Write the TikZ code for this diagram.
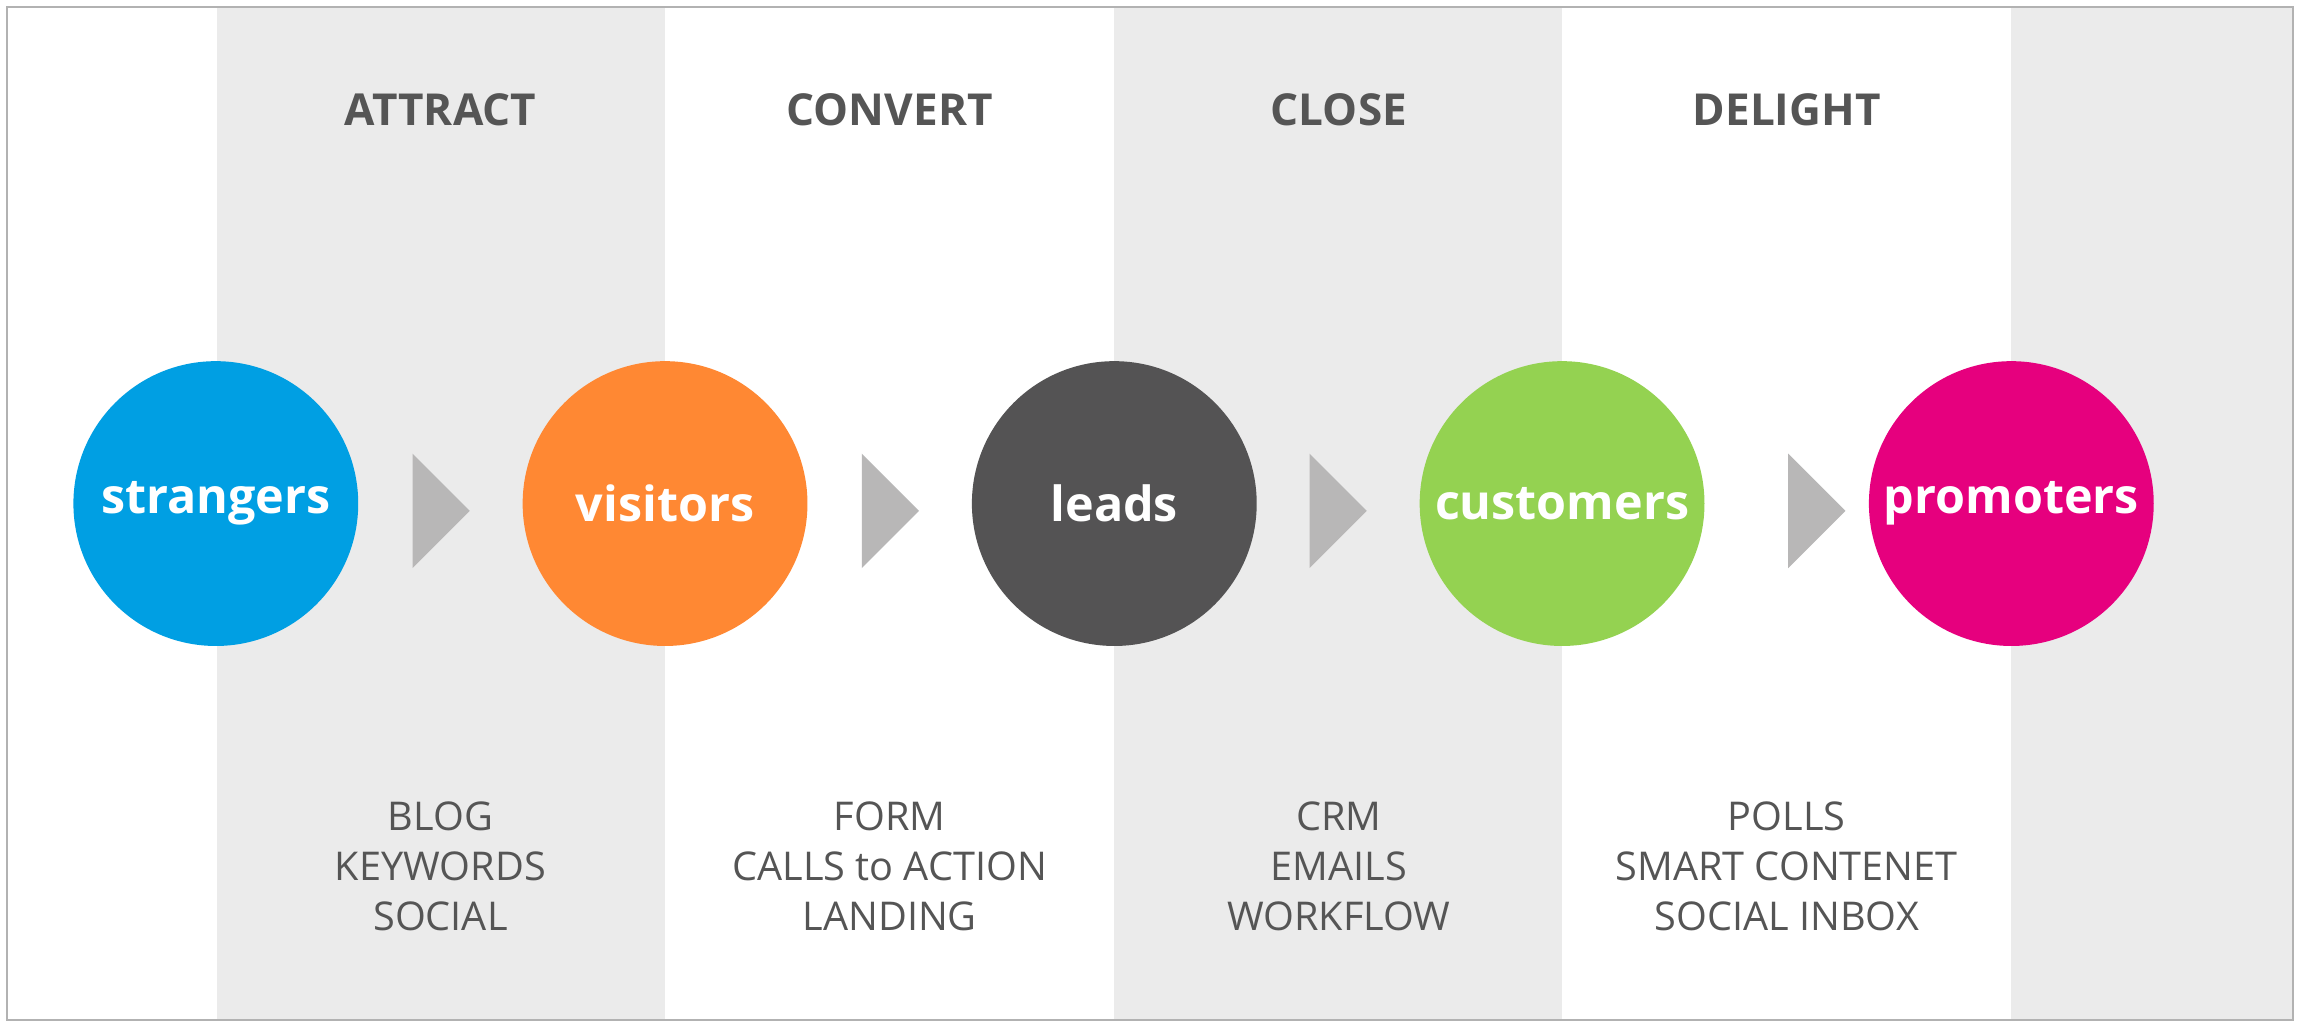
\documentclass[tikz,border=0pt]{standalone}
\usepackage{fontspec}
\setmainfont{Open Sans}
\definecolor{band}{HTML}{EBEBEB}
\definecolor{tri}{HTML}{B8B7B7}
\definecolor{txt}{HTML}{555555}
\definecolor{cblue}{HTML}{009FE3}
\definecolor{corange}{HTML}{FF8833}
\definecolor{cdark}{HTML}{545354}
\definecolor{cgreen}{HTML}{94D251}
\definecolor{cmag}{HTML}{E6007E}
\begin{document}
\begin{tikzpicture}[x=1pt,y=-1pt,
  stage/.style={circle,minimum size=194pt,inner sep=0pt,text=white,font=\fontsize{33}{33}\selectfont\bfseries},
  title/.style={text=txt,font=\fontsize{30}{30}\selectfont\bfseries},
  tools/.style={text=txt,align=center,font=\fontsize{27}{34}\selectfont},
  arrow/.style={fill=tri}]
\useasboundingbox (0,0) rectangle (1568,701);
\fill[white] (0,0) rectangle (1568,701);
\foreach \a/\b in {148/453,759/1064,1370/1562}{\fill[band] (\a,5) rectangle (\b,695);}
\draw[line width=1.2pt,black!30] (5,5) rectangle (1562,695);
\node[stage,fill=cblue] (s) at (147,343) {strangers};
\node[stage,fill=corange] (v) at (453,343) {visitors};
\node[stage,fill=cdark] (l) at (759,343) {leads};
\node[stage,fill=cgreen] (c) at (1064,343) {customers};
\node[stage,fill=cmag] (p) at (1370,343) {promoters};
\foreach \x in {281,587,892,1218}{\fill[tri] (\x,309) -- (\x+39,348) -- (\x,387) -- cycle;}
\node[title] (t1) at (300,75) {ATTRACT};
\node[title] (t2) at (606,75) {CONVERT};
\node[title] (t3) at (912,75) {CLOSE};
\node[title] (t4) at (1217,75) {DELIGHT};
\node[tools] (b1) at (300,590) {BLOG\\KEYWORDS\\SOCIAL};
\node[tools] (b2) at (606,590) {FORM\\CALLS to ACTION\\LANDING};
\node[tools] (b3) at (912,590) {CRM\\EMAILS\\WORKFLOW};
\node[tools] (b4) at (1217,590) {POLLS\\SMART CONTENET\\SOCIAL INBOX};
\end{tikzpicture}
\end{document}
